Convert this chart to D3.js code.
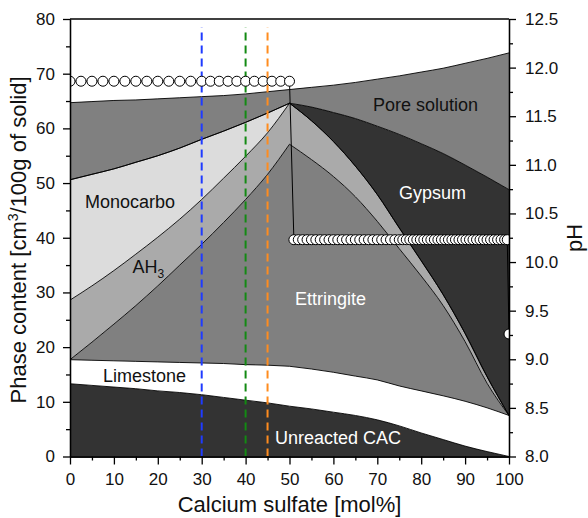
<!DOCTYPE html>
<html lang="en">
<head>
    <meta charset="UTF-8">
    <title>Phase content vs calcium sulfate</title>
    <script src="https://d3js.org/d3.v7.min.js"></script>
    <style>
        body { margin: 0; background: #fff; }
        text { font-family: "Liberation Sans", Arial, Helvetica, sans-serif; }
        .axis path, .axis line { stroke: #000; stroke-width: 1.3; }
        .axis text { font-size: 17px; fill: #111; }
    </style>
</head>
<body>
    <script>
        // calcium sulfate [mol%]
        const sulfate = [0, 5, 10, 15, 20, 25, 30, 35, 40, 45, 50, 55, 60, 65, 70, 75, 80, 85, 90, 95, 100];

        // phase content [cm3/100g of solid], stacked from the bottom
        const unreactedCAC = [13.3, 13.0, 12.7, 12.4, 12.0, 11.7, 11.3, 10.8, 10.3, 9.8, 9.2, 8.7, 8.1, 7.5, 6.7, 5.6, 4.3, 3.1, 1.9, 0.9, 0];
        const limestone    = [4.4, 4.6, 4.8, 5.0, 5.3, 5.5, 5.8, 6.2, 6.5, 6.9, 7.3, 7.3, 7.3, 7.2, 7.3, 7.3, 7.7, 8.0, 8.2, 8.0, 7.5];
        const ettringite   = [0, 3.3, 6.7, 10.2, 13.9, 17.8, 21.7, 25.8, 30.2, 34.9, 40.6, 38.3, 35.8, 32.8, 29.0, 25.1, 21.0, 16.5, 10.9, 4.5, 0];
        const ah3          = [10.9, 10.3, 9.8, 9.4, 8.9, 8.4, 8.2, 8.1, 7.9, 7.6, 7.5, 7.1, 6.4, 5.6, 4.9, 3.8, 2.8, 2.0, 1.5, 1.2, 0];
        const monocarbo    = [22.0, 20.4, 18.6, 16.8, 14.9, 13.0, 11.0, 8.6, 6.2, 3.6, 0, 0, 0, 0, 0, 0, 0, 0, 0, 0, 0];
        const gypsum       = [0, 0, 0, 0, 0, 0, 0, 0, 0, 0, 0, 2.5, 5.3, 8.7, 12.5, 17.1, 21.4, 25.8, 30.8, 36.5, 41.3];
        const poreSolution = [14.1, 13.3, 12.5, 11.4, 10.4, 9.2, 7.8, 6.5, 5.2, 3.9, 2.5, 3.6, 5.0, 6.6, 8.6, 10.7, 13.1, 15.6, 18.6, 21.7, 25.0];

        // pH of the pore solution
        const phSulfate = [0, 2.5, 5, 7.5, 10, 12.5, 15, 17.5, 20, 22.5, 25, 27.5, 30, 32, 34, 36, 38, 40, 42, 44, 46, 48, 50,
            51, 52, 53, 54, 55, 56, 57, 58, 59, 60, 61, 62, 63, 64, 65, 66, 67, 68, 69, 70, 71, 72, 73, 74, 75,
            75.8, 76.6, 77.4, 78.2, 79, 79.8, 80.6, 81.4, 82.2, 83, 83.8, 84.6, 85.4, 86.2, 87, 87.8, 88.6, 89.4,
            90.2, 91, 91.8, 92.6, 93.4, 94.2, 95, 95.8, 96.6, 97.4, 98.2, 99, 99.6, 100];
        const phValue = [11.86, 11.86, 11.86, 11.86, 11.86, 11.86, 11.86, 11.86, 11.86, 11.86, 11.86, 11.86, 11.86,
            11.86, 11.86, 11.86, 11.86, 11.86, 11.86, 11.86, 11.86, 11.86, 11.86,
            10.23, 10.23, 10.23, 10.23, 10.23, 10.23, 10.23, 10.23, 10.23, 10.23, 10.23, 10.23, 10.23, 10.23, 10.23,
            10.23, 10.23, 10.23, 10.23, 10.23, 10.23, 10.23, 10.23, 10.23, 10.23,
            10.23, 10.23, 10.23, 10.23, 10.23, 10.23, 10.23, 10.23, 10.23, 10.23, 10.23, 10.23, 10.23, 10.23, 10.23,
            10.23, 10.23, 10.23, 10.23, 10.23, 10.23, 10.23, 10.23, 10.23, 10.23, 10.23, 10.23, 10.23, 10.23, 10.23,
            10.23, 9.26];

        // sample compositions marked with dashed lines
        const markers = [30, 40, 45];
        const markerColors = ["#1f3bff", "#138a13", "#ff8c1e"];

        const phases = ["cac", "limestone", "ettringite", "ah3", "monocarbo", "gypsum", "pore"];
        const phaseColors = ["#333333", "#ffffff", "#808080", "#aaaaaa", "#dcdcdc", "#333333", "#808080"];

        const xTicks = [0, 10, 20, 30, 40, 50, 60, 70, 80, 90, 100];
        const yTicks = [0, 10, 20, 30, 40, 50, 60, 70, 80];
        const phTicks = [8.0, 8.5, 9.0, 9.5, 10.0, 10.5, 11.0, 11.5, 12.0, 12.5];

        const table = sulfate.map((s, i) => ({
            x: s, cac: unreactedCAC[i], limestone: limestone[i], ettringite: ettringite[i],
            ah3: ah3[i], monocarbo: monocarbo[i], gypsum: gypsum[i], pore: poreSolution[i]
        }));
        const stacked = d3.stack().keys(phases)(table);

        // the curves break at the 50 mol% kink, so each side is smoothed on its own
        const kink = 50;
        const halves = layer => [layer.filter(p => p.data.x <= kink), layer.filter(p => p.data.x >= kink)];

        const plotLeft = 70, plotRight = 509, plotTop = 19, plotBottom = 456.5;
        const x = d3.scaleLinear().domain([0, 100]).range([plotLeft, plotRight]);
        const y = d3.scaleLinear().domain([0, 80]).range([plotBottom, plotTop]);
        const yPh = d3.scaleLinear().domain([8, 12.5]).range([plotBottom, plotTop]);

        const svg = d3.select("body").append("svg").attr("width", 588).attr("height", 518);

        svg.append("clipPath").attr("id", "plot")
            .append("rect").attr("x", plotLeft).attr("y", plotTop)
            .attr("width", plotRight - plotLeft).attr("height", plotBottom - plotTop);

        const g = svg.append("g").attr("clip-path", "url(#plot)");

        const area = d3.area()
            .curve(d3.curveMonotoneX)
            .x(d => x(d.data.x))
            .y0(d => y(d[0]))
            .y1(d => y(d[1]));
        g.selectAll(".layer").data(stacked).enter().append("path")
            .attr("class", "layer")
            .attr("d", d => halves(d).map(area).join(""))
            .attr("fill", (d, i) => phaseColors[i]);

        const edge = d3.line().curve(d3.curveMonotoneX).x(d => x(d.data.x)).y(d => y(d[1]));
        g.selectAll(".edge").data(stacked).enter().append("path")
            .attr("class", "edge")
            .attr("d", d => halves(d).map(edge).join(""))
            .attr("fill", "none")
            .attr("stroke", "#000")
            .attr("stroke-width", 0.9);

        // dashed composition markers
        g.selectAll(".marker").data(markers).enter().append("line")
            .attr("x1", d => x(d)).attr("x2", d => x(d))
            .attr("y1", y(0)).attr("y2", y(78.5))
            .attr("stroke", (d, i) => markerColors[i])
            .attr("stroke-width", 2)
            .attr("stroke-dasharray", "8,5");

        // pH line with open circles
        const phPoints = phSulfate.map((s, i) => [s, phValue[i]]);
        g.append("path")
            .attr("d", d3.line().x(d => x(d[0])).y(d => yPh(d[1]))(phPoints))
            .attr("fill", "none")
            .attr("stroke", "#000")
            .attr("stroke-width", 1);
        g.selectAll(".ph").data(phPoints).enter().append("circle")
            .attr("class", "ph")
            .attr("cx", d => x(d[0]))
            .attr("cy", d => yPh(d[1]))
            .attr("r", 5)
            .attr("fill", "#fff")
            .attr("stroke", "#000")
            .attr("stroke-width", 1);

        // phase labels
        const labels = [
            { t: "Pore solution", x: 373, y: 111, c: "#111" },
            { t: "Gypsum", x: 399, y: 199, c: "#fff" },
            { t: "Monocarbo", x: 85, y: 208, c: "#111" },
            { t: "Ettringite", x: 295, y: 305, c: "#fff" },
            { t: "Limestone", x: 103, y: 381.5, c: "#111" },
            { t: "Unreacted CAC", x: 275, y: 444, c: "#fff" }
        ];
        svg.selectAll(".lbl").data(labels).enter().append("text")
            .attr("x", d => d.x).attr("y", d => d.y)
            .attr("fill", d => d.c)
            .attr("font-size", 18)
            .text(d => d.t);
        const ahLabel = svg.append("text").attr("x", 132.5).attr("y", 273).attr("font-size", 18).attr("fill", "#111");
        ahLabel.append("tspan").text("AH");
        ahLabel.append("tspan").attr("font-size", 12).attr("dy", 5).text("3");

        // axes
        svg.append("g").attr("class", "axis").attr("transform", `translate(0,${plotBottom})`)
            .call(d3.axisBottom(x).tickValues(xTicks).tickSize(8).tickPadding(8).tickSizeOuter(0));
        svg.append("g").attr("class", "axis").attr("transform", `translate(0,${plotBottom})`)
            .call(d3.axisBottom(x).tickValues(d3.range(5, 100, 10)).tickSize(4).tickFormat("").tickSizeOuter(0));

        svg.append("g").attr("class", "axis").attr("transform", `translate(${plotLeft},0)`)
            .call(d3.axisLeft(y).tickValues(yTicks).tickSize(7).tickPadding(8).tickSizeOuter(0));
        svg.append("g").attr("class", "axis").attr("transform", `translate(${plotLeft},0)`)
            .call(d3.axisLeft(y).tickValues(d3.range(5, 80, 10)).tickSize(4).tickFormat("").tickSizeOuter(0));

        svg.append("g").attr("class", "axis").attr("transform", `translate(${plotRight},0)`)
            .call(d3.axisRight(yPh).tickValues(phTicks).tickSize(7).tickPadding(9).tickFormat(d3.format(".1f")).tickSizeOuter(0));
        svg.append("g").attr("class", "axis").attr("transform", `translate(${plotRight},0)`)
            .call(d3.axisRight(yPh).tickValues(d3.range(8.25, 12.5, 0.5)).tickSize(4).tickFormat("").tickSizeOuter(0));

        svg.append("line")
            .attr("x1", plotLeft).attr("x2", plotRight).attr("y1", plotTop).attr("y2", plotTop)
            .attr("stroke", "#000").attr("stroke-width", 1.3);

        // axis titles
        svg.append("text")
            .attr("x", (plotLeft + plotRight) / 2).attr("y", 512)
            .attr("text-anchor", "middle").attr("font-size", 22).attr("fill", "#111")
            .text("Calcium sulfate [mol%]");

        const yTitle = svg.append("text")
            .attr("transform", "translate(26,240) rotate(-90)")
            .attr("text-anchor", "middle").attr("font-size", 22).attr("fill", "#111");
        yTitle.append("tspan").text("Phase content [cm");
        yTitle.append("tspan").attr("font-size", 14).attr("dy", -8).text("3");
        yTitle.append("tspan").attr("dy", 8).text("/100g of solid]");

        svg.append("text")
            .attr("transform", "translate(582,238) rotate(-90)")
            .attr("text-anchor", "middle").attr("font-size", 22).attr("fill", "#111")
            .text("pH");
    </script>
</body>
</html>
